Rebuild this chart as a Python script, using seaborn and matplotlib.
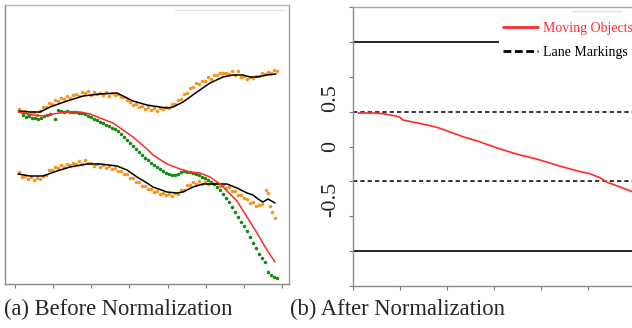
import numpy as np
import pandas as pd
import matplotlib
matplotlib.use("Agg")
import matplotlib.pyplot as plt
import seaborn as sns
from matplotlib.lines import Line2D

# ---------------- (a) Before Normalization : frame index / lateral position ----------------
lane_top_x = [4, 15, 25, 35, 52, 68, 85, 102, 108, 118, 132, 138, 152, 158, 168, 182, 195, 208, 218, 228, 235, 242, 252, 261]
lane_top_y = [173, 172, 172, 177, 183, 188, 190, 191, 188, 183, 179, 178, 176, 177, 182, 192, 201, 207, 209, 209, 207, 207, 209, 210]

obs_top_x = [4, 7, 10, 13, 16, 19, 22, 25, 28, 31, 34, 37, 40, 43, 46, 49, 52, 55, 58, 61, 64, 67, 70, 73, 76, 79, 82,
             85, 88, 91, 94, 97, 100, 103, 106, 109, 112, 115, 118, 121, 124, 127, 130, 133, 136, 139, 142, 145, 148,
             151, 154, 157, 160, 163, 166, 169, 172, 175, 178, 181, 184, 187, 190, 193, 196, 199, 202, 205, 208, 211,
             214, 217, 220, 223, 226, 229, 232, 235, 238, 241, 244, 247, 250, 253, 256, 259, 262]
obs_top_y = [175, 172, 173, 170, 172, 172, 169, 173, 177, 177, 181, 180, 184, 183, 186, 185, 188, 186, 189, 190, 188,
             192, 191, 193, 189, 192, 190, 191, 189, 192, 188, 191, 189, 190, 187, 187, 184, 182, 179, 180, 177, 178,
             175, 177, 174, 176, 173, 176, 175, 177, 176, 180, 180, 184, 185, 190, 191, 196, 197, 201, 200, 203, 203,
             207, 205, 209, 209, 211, 211, 211, 210, 213, 209, 213, 207, 208, 205, 207, 206, 208, 208, 211, 210, 212,
             211, 214, 213]

lane_bot_x = [3, 15, 28, 42, 55, 72, 85, 102, 112, 122, 132, 138, 152, 162, 168, 178, 188, 202, 212, 222, 232, 238, 243, 248, 253, 260]
lane_bot_y = [110, 108, 108, 113, 117, 120, 120, 118, 114, 107, 101, 97, 92, 91, 92, 97, 100, 100, 100, 96, 91, 89, 85, 82, 85, 81]

obs_bot_x = [4, 7, 10, 13, 16, 19, 22, 25, 28, 31, 34, 37, 40, 43, 46, 49, 52, 55, 58, 61, 64, 67, 70, 73, 76, 79, 82,
             85, 88, 91, 94, 97, 100, 103, 106, 109, 112, 115, 118, 121, 124, 127, 130, 133, 136, 139, 142, 145, 148,
             151, 154, 157, 160, 163, 166, 169, 172, 175, 178, 181, 184, 187, 190, 193, 196, 199, 202, 205, 208, 211,
             214, 217, 220, 223, 226, 229, 232, 235, 238, 241, 244, 247, 251, 253, 255, 257, 260]
obs_bot_y = [112, 107, 108, 105, 107, 104, 106, 105, 108, 109, 114, 114, 117, 116, 119, 117, 120, 119, 121, 120, 123,
             120, 124, 121, 121, 118, 120, 117, 119, 116, 118, 115, 116, 113, 113, 110, 110, 106, 106, 102, 102, 98,
             98, 95, 95, 92, 93, 90, 91, 89, 90, 88, 91, 90, 94, 94, 99, 99, 102, 100, 103, 100, 102, 100, 101, 100,
             101, 98, 99, 96, 97, 93, 93, 89, 89, 86, 85, 81, 82, 78, 79, 80, 94, 91, 78, 72, 66]

obj_x = [3, 18, 28, 38, 52, 65, 75, 85, 98, 108, 118, 132, 138, 152, 165, 175, 185, 195, 205, 213, 222, 232, 242, 252, 260]
obj_y = [172, 169, 168, 170, 172, 172, 170, 166, 161, 154, 147, 135, 129, 120, 115, 112, 111, 107, 100, 92, 83, 67, 51, 34, 22]

obj_obs_x = [8, 11, 14, 17, 20, 23, 26, 29, 32, 35, 40, 43, 46, 49, 52, 55, 58, 61, 64, 67, 70, 73, 76, 79, 82, 85, 88,
             91, 94, 97, 100, 103, 106, 109, 112, 115, 118, 121, 124, 127, 130, 133, 136, 139, 142, 145, 148, 151, 154,
             157, 160, 163, 166, 169, 172, 175, 178, 181, 184, 187, 190, 193, 196, 199, 202, 205, 208, 211, 214, 217,
             220, 223, 226, 229, 232, 235, 238, 241, 244, 247, 250, 253, 256, 259, 262]
obj_obs_y = [169, 167, 168, 166, 166, 165, 166, 168, 169, 170, 165, 174, 173, 172, 173, 172, 172, 172, 171, 171, 170,
             168, 167, 165, 164, 162, 161, 159, 158, 156, 155, 153, 150, 147, 144, 141, 138, 135, 132, 129, 126, 124,
             121, 119, 117, 115, 113, 111, 110, 109, 109, 110, 112, 113, 112, 112, 111, 110, 109, 107, 106, 104, 102,
             100, 97, 94, 90, 86, 82, 77, 72, 67, 62, 58, 53, 47, 41, 36, 30, 26, 22, 12, 9, 7, 6]

# ---------------- (b) After Normalization ----------------
norm_x = [0.11, 0.43, 0.64, 0.89, 1.00, 1.06, 1.28, 1.57, 1.81, 2.06, 2.34, 2.64, 3.06, 3.49, 3.91, 4.40, 4.77, 5.04,
          5.26, 5.40, 5.68, 5.91, 6.10]
norm_y = [0.48, 0.48, 0.47, 0.44, 0.42, 0.38, 0.35, 0.31, 0.27, 0.21, 0.14, 0.08, -0.02, -0.11, -0.18, -0.28, -0.35,
          -0.39, -0.45, -0.51, -0.58, -0.64, -0.68]
lane_dashed = [0.5, -0.5]
road_edges = [1.5, -1.5]
ytick_vals = [-2.0, -1.5, -1.0, -0.5, 0.0, 0.5, 1.0, 1.5, 2.0]
ytick_labels = ["", "", "", "-0.5", "0", "0.5", "", "", ""]
legend_labels = ["Moving Objects", "Lane Markings"]
captions = ["(a) Before Normalization", "(b) After Normalization"]

ORANGE = "#f7941d"
GREEN = "#138a13"
RED = "#ff2a2a"

sns.set_theme(style="white")
plt.rcParams['font.family'] = ['Liberation Serif', 'DejaVu Serif']
plt.rcParams['axes.unicode_minus'] = False

fig = plt.figure(figsize=(6.32, 3.28), dpi=100)
axL = fig.add_axes([5/632, 44/328, 284/632, 279/328])
axR = fig.add_axes([353/632, 42/328, 329/632, 279/328])

# ----- left panel -----
sns.scatterplot(x=obs_top_x, y=obs_top_y, color=ORANGE, s=6.5, linewidth=0, ax=axL, zorder=2)
sns.scatterplot(x=obs_bot_x, y=obs_bot_y, color=ORANGE, s=6.5, linewidth=0, ax=axL, zorder=2)
sns.scatterplot(x=obj_obs_x, y=obj_obs_y, color=GREEN, s=6.5, linewidth=0, ax=axL, zorder=2)
sns.lineplot(x=lane_top_x, y=lane_top_y, color="black", lw=1.1, estimator=None, sort=False, ax=axL, zorder=3)
sns.lineplot(x=lane_bot_x, y=lane_bot_y, color="black", lw=1.1, estimator=None, sort=False, ax=axL, zorder=3)
sns.lineplot(x=obj_x, y=obj_y, color=RED, lw=1.1, estimator=None, sort=False, ax=axL, zorder=3)
axL.set_xlim(-10, 274)
axL.set_ylim(0, 279)
axL.set_xticks(np.linspace(0, 267, 8))
axL.set_yticks([])
axL.tick_params(axis='x', bottom=True, length=3, width=0.8, color="#7a7a7a", labelbottom=False)
for side, c in [("left", "#8a8a8a"), ("bottom", "#8a8a8a"), ("top", "#b5b5b5"), ("right", "#a0a0a0")]:
    axL.spines[side].set_color(c)
    axL.spines[side].set_linewidth(1.0)
axL.plot([0.6, 0.986], [0.982, 0.982], transform=axL.transAxes, color="#e2e2e2", lw=1)
axL.set_xlabel("")
axL.set_ylabel("")

# ----- right panel -----
for v in road_edges:
    axR.axhline(v, color="black", lw=1.2, zorder=2)
for v in lane_dashed:
    axR.axhline(v, color="black", lw=1.1, linestyle=(0, (2.8, 2.0)), zorder=2)
sns.lineplot(x=norm_x, y=norm_y, color=RED, lw=1.2, estimator=None, sort=False, ax=axR, zorder=3)
axR.set_xlim(0, 7)
axR.set_ylim(-2, 2)
axR.set_xticks(range(0, 8))
axR.set_yticks(ytick_vals)
axR.set_yticklabels(ytick_labels, rotation=90, fontsize=16)
for lab in axR.get_yticklabels():
    t = lab.get_text()
    if t.startswith("-"):
        lab.set_va("top")
    elif t == "0":
        lab.set_va("center")
    else:
        lab.set_va("bottom")
axR.tick_params(axis='x', bottom=True, length=3, width=0.8, color="#7a7a7a", labelbottom=False)
axR.tick_params(axis='y', left=True, length=3, width=0.8, color="#7a7a7a", pad=6)
for side, c in [("left", "#8a8a8a"), ("bottom", "#8a8a8a"), ("top", "#a8a8a8"), ("right", "#a8a8a8")]:
    axR.spines[side].set_color(c)
    axR.spines[side].set_linewidth(1.0)
axR.set_xlabel("")
axR.set_ylabel("")

handles = [Line2D([], [], color=RED, lw=2.0),
           Line2D([], [], color="black", lw=2.0, linestyle=(0, (2.8, 1.3)))]
leg = axR.legend(handles, legend_labels, loc="upper left",
                 bbox_to_anchor=(499/632, 1 - 18/328), bbox_transform=fig.transFigure,
                 frameon=True, facecolor="white", edgecolor="none", framealpha=1,
                 fontsize=10, handlelength=2.5, handletextpad=0.4, labelspacing=0.75,
                 borderpad=0.3, borderaxespad=0)
leg.get_texts()[0].set_color(RED)
leg.get_texts()[1].set_color("black")
axR.plot([0.666, 0.815], [0.985, 0.985], transform=axR.transAxes, color="#e2e2e2", lw=1, zorder=6)

# captions
fig.text(118/632, 1 - 309/328, captions[0], ha="center", va="center", fontsize=16.3)
fig.text(397/632, 1 - 309/328, captions[1], ha="center", va="center", fontsize=16.3)

fig.savefig("out.png", dpi=100)
